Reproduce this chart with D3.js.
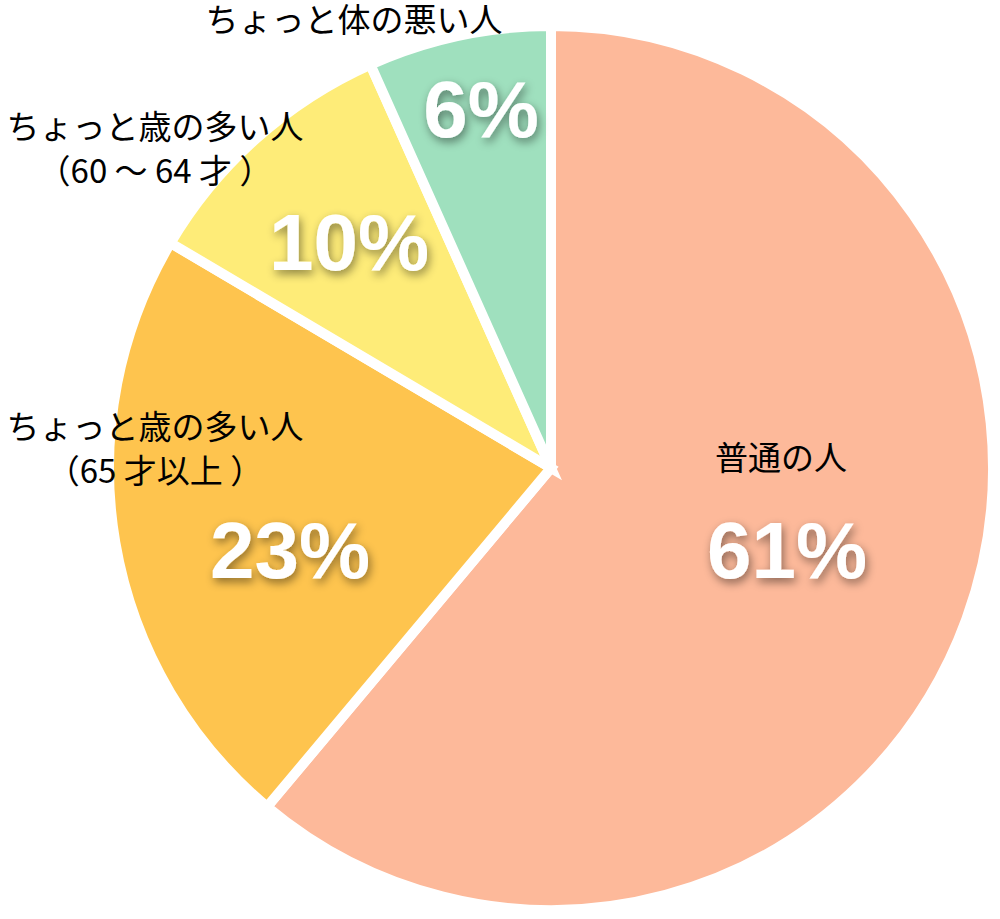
<!DOCTYPE html>
<html>
<head>
<meta charset="utf-8">
<script src="https://cdn.jsdelivr.net/npm/d3@7"></script>
<style>
  body { margin: 0; background: #fff; }
  svg { display: block; }
</style>
</head>
<body>
<svg id="chart"></svg>
<script>
// slices, clockwise from 12 o'clock
const categories = ['普通の人', 'ちょっと歳の多い人（65 才以上 ）', 'ちょっと歳の多い人（60 ～ 64 才 ）', 'ちょっと体の悪い人'];
const shares = [61.1, 22.4, 9.8, 6.7];
const pctLabels = ['61%', '23%', '10%', '6%'];
const colors = ['#fdb99a', '#fec44e', '#feec78', '#9fe0be'];

// label lines per slice (the legend text sits beside / inside the pie)
const nameLines = [
  ['普通の人'],
  ['ちょっと歳の多い人', '（65 才以上 ）'],
  ['ちょっと歳の多い人', '（60 ～ 64 才 ）'],
  ['ちょっと体の悪い人']
];

const width = 1000;
const height = 919;
const cx = 551, cy = 468, radius = 442;

// hand placed text positions [x, baseline of first line]
const namePos = [[781, 470], [155, 439], [155, 139], [354, 32]];
const pctPos = [[787, 578], [290, 578], [349, 270], [481, 137]];

const svg = d3.select('#chart')
  .attr('width', width)
  .attr('height', height)
  .attr('viewBox', [0, 0, width, height]);

const defs = svg.append('defs');
defs.append('filter')
  .attr('id', 'shadow')
  .attr('x', '-30%').attr('y', '-30%')
  .attr('width', '160%').attr('height', '160%')
  .append('feDropShadow')
  .attr('dx', 2)
  .attr('dy', 4)
  .attr('stdDeviation', 5)
  .attr('flood-color', '#000')
  .attr('flood-opacity', 0.45);

const pie = d3.pie().sort(null).value(d => d);
const arcs = pie(shares);
const arc = d3.arc().innerRadius(0).outerRadius(radius);

const g = svg.append('g').attr('transform', `translate(${cx},${cy})`);

g.selectAll('path')
  .data(arcs)
  .join('path')
  .attr('d', arc)
  .attr('fill', (d, i) => colors[i])
  .attr('stroke', '#fff')
  .attr('stroke-width', 10)
  .attr('stroke-linejoin', 'miter');

// category names
const names = svg.append('g')
  .attr('font-family', '"Noto Sans CJK JP", "Noto Sans", sans-serif')
  .attr('font-size', 33)
  .attr('fill', '#000')
  .attr('text-anchor', 'middle')
  .selectAll('text')
  .data(nameLines)
  .join('text')
  .attr('x', (d, i) => namePos[i][0])
  .attr('y', (d, i) => namePos[i][1]);

names.selectAll('tspan')
  .data(d => d)
  .join('tspan')
  .attr('x', function () { return this.parentNode.getAttribute('x'); })
  .attr('dy', (d, j) => j === 0 ? 0 : 44)
  .text(d => d);

// percentages
svg.append('g')
  .attr('font-family', '"Liberation Sans", Arial, Helvetica, sans-serif')
  .attr('font-weight', 'bold')
  .attr('font-size', 80)
  .attr('fill', '#fff')
  .attr('text-anchor', 'middle')
  .attr('filter', 'url(#shadow)')
  .selectAll('text')
  .data(pctLabels)
  .join('text')
  .attr('x', (d, i) => pctPos[i][0])
  .attr('y', (d, i) => pctPos[i][1])
  .text(d => d);
</script>
</body>
</html>
